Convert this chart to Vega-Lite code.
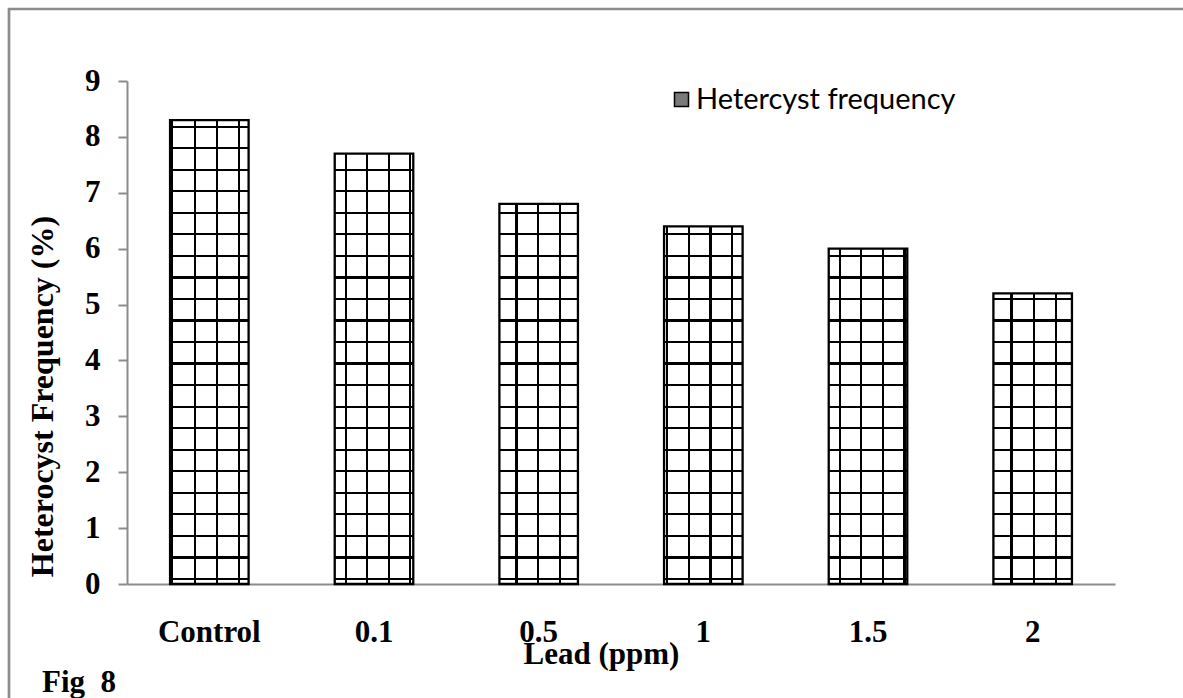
{
  "$schema": "https://vega.github.io/schema/vega-lite/v6.json",
  "width": 1194,
  "height": 709,
  "autosize": {"type": "none"},
  "padding": {"left": 9, "top": 9, "right": -20, "bottom": -20},
  "background": "white",
  "config": {
    "view": {"stroke": "#8c8c8c", "strokeWidth": 2.7},
    "font": "Liberation Serif"
  },
  "title": {
    "text": "Fig\u00a0 8",
    "orient": "bottom",
    "anchor": "start",
    "frame": "group",
    "offset": -26.3,
    "dx": 33,
    "baseline": "alphabetic",
    "font": "Liberation Serif",
    "fontSize": 31,
    "fontWeight": "bold",
    "color": "black"
  },
  "data": {
    "values": [
      {"dose": "Control", "freq": 8.3},
      {"dose": "0.1", "freq": 7.7},
      {"dose": "0.5", "freq": 6.8},
      {"dose": "1", "freq": 6.4},
      {"dose": "1.5", "freq": 6.0},
      {"dose": "2", "freq": 5.2}
    ]
  },
  "encoding": {
    "x": {
      "field": "dose",
      "type": "nominal",
      "sort": null,
      "scale": {"type": "band", "range": [118, 1106], "paddingInner": 0, "paddingOuter": 0},
      "axis": {
        "title": "Lead (ppm)",
        "orient": "bottom",
        "offset": -134,
        "labelAngle": 0,
        "labelFont": "Liberation Serif",
        "labelFontSize": 31,
        "labelFontWeight": "bold",
        "labelColor": "black",
        "labelBaseline": "alphabetic",
        "labelPadding": 57,
        "labelOverlap": false,
        "ticks": false,
        "tickSize": 0,
        "grid": false,
        "domainColor": "#8c8c8c",
        "domainWidth": 2,
        "titleFont": "Liberation Serif",
        "titleFontSize": 31,
        "titleFontWeight": "bold",
        "titleColor": "black",
        "titleX": 592,
        "titleY": 79,
        "titleBaseline": "alphabetic",
        "titleAlign": "center"
      }
    },
    "y": {
      "field": "freq",
      "type": "quantitative",
      "scale": {"domain": [0, 9], "range": [575, 72], "nice": false, "zero": true},
      "axis": {
        "title": "Heterocyst Frequency (%)",
        "orient": "left",
        "offset": -118,
        "values": [0, 1, 2, 3, 4, 5, 6, 7, 8, 9],
        "grid": false,
        "ticks": true,
        "tickSize": 9,
        "tickColor": "#8c8c8c",
        "tickWidth": 2,
        "domainColor": "#8c8c8c",
        "domainWidth": 2,
        "labelFont": "Liberation Serif",
        "labelFontSize": 31,
        "labelFontWeight": "bold",
        "labelColor": "black",
        "labelPadding": 18,
        "labelBaseline": "middle",
        "labelAlign": "right",
        "labelFlush": false,
        "labelOverlap": false,
        "titleFont": "Liberation Serif",
        "titleFontSize": 32,
        "titleFontWeight": "bold",
        "titleColor": "black",
        "titleX": -74.5,
        "titleY": 387,
        "titleAngle": -90,
        "titleBaseline": "alphabetic",
        "titleAlign": "center"
      }
    }
  },
  "layer": [
    {
      "mark": {
        "type": "bar",
        "width": {"band": 0.477},
        "stroke": null,
        "fill": {
          "gradient": "linear", "x1": 0, "y1": 0, "x2": 0, "y2": 1,
          "stops": [
            {"offset": 0, "color": "white"},
            {"offset": 0.00293, "color": "white"}, {"offset": 0.00293, "color": "black"}, {"offset": 0.00733, "color": "black"}, {"offset": 0.00733, "color": "white"},
            {"offset": 0.04575, "color": "white"}, {"offset": 0.04575, "color": "black"}, {"offset": 0.05015, "color": "black"}, {"offset": 0.05015, "color": "white"},
            {"offset": 0.08858, "color": "white"}, {"offset": 0.08858, "color": "black"}, {"offset": 0.09298, "color": "black"}, {"offset": 0.09298, "color": "white"},
            {"offset": 0.13140, "color": "white"}, {"offset": 0.13140, "color": "black"}, {"offset": 0.13580, "color": "black"}, {"offset": 0.13580, "color": "white"},
            {"offset": 0.17422, "color": "white"}, {"offset": 0.17422, "color": "black"}, {"offset": 0.17862, "color": "black"}, {"offset": 0.17862, "color": "white"},
            {"offset": 0.21704, "color": "white"}, {"offset": 0.21704, "color": "black"}, {"offset": 0.22144, "color": "black"}, {"offset": 0.22144, "color": "white"},
            {"offset": 0.25987, "color": "white"}, {"offset": 0.25987, "color": "black"}, {"offset": 0.26427, "color": "black"}, {"offset": 0.26427, "color": "white"},
            {"offset": 0.30269, "color": "white"}, {"offset": 0.30269, "color": "black"}, {"offset": 0.30709, "color": "black"}, {"offset": 0.30709, "color": "white"},
            {"offset": 0.34551, "color": "white"}, {"offset": 0.34551, "color": "black"}, {"offset": 0.34991, "color": "black"}, {"offset": 0.34991, "color": "white"},
            {"offset": 0.38834, "color": "white"}, {"offset": 0.38834, "color": "black"}, {"offset": 0.39274, "color": "black"}, {"offset": 0.39274, "color": "white"},
            {"offset": 0.43116, "color": "white"}, {"offset": 0.43116, "color": "black"}, {"offset": 0.43556, "color": "black"}, {"offset": 0.43556, "color": "white"},
            {"offset": 0.47398, "color": "white"}, {"offset": 0.47398, "color": "black"}, {"offset": 0.47838, "color": "black"}, {"offset": 0.47838, "color": "white"},
            {"offset": 0.51681, "color": "white"}, {"offset": 0.51681, "color": "black"}, {"offset": 0.52121, "color": "black"}, {"offset": 0.52121, "color": "white"},
            {"offset": 0.55963, "color": "white"}, {"offset": 0.55963, "color": "black"}, {"offset": 0.56403, "color": "black"}, {"offset": 0.56403, "color": "white"},
            {"offset": 0.60245, "color": "white"}, {"offset": 0.60245, "color": "black"}, {"offset": 0.60685, "color": "black"}, {"offset": 0.60685, "color": "white"},
            {"offset": 0.64528, "color": "white"}, {"offset": 0.64528, "color": "black"}, {"offset": 0.64968, "color": "black"}, {"offset": 0.64968, "color": "white"},
            {"offset": 0.68810, "color": "white"}, {"offset": 0.68810, "color": "black"}, {"offset": 0.69250, "color": "black"}, {"offset": 0.69250, "color": "white"},
            {"offset": 0.73092, "color": "white"}, {"offset": 0.73092, "color": "black"}, {"offset": 0.73532, "color": "black"}, {"offset": 0.73532, "color": "white"},
            {"offset": 0.77374, "color": "white"}, {"offset": 0.77374, "color": "black"}, {"offset": 0.77814, "color": "black"}, {"offset": 0.77814, "color": "white"},
            {"offset": 0.81657, "color": "white"}, {"offset": 0.81657, "color": "black"}, {"offset": 0.82097, "color": "black"}, {"offset": 0.82097, "color": "white"},
            {"offset": 0.85939, "color": "white"}, {"offset": 0.85939, "color": "black"}, {"offset": 0.86379, "color": "black"}, {"offset": 0.86379, "color": "white"},
            {"offset": 0.90221, "color": "white"}, {"offset": 0.90221, "color": "black"}, {"offset": 0.90661, "color": "black"}, {"offset": 0.90661, "color": "white"},
            {"offset": 0.94504, "color": "white"}, {"offset": 0.94504, "color": "black"}, {"offset": 0.94944, "color": "black"}, {"offset": 0.94944, "color": "white"},
            {"offset": 0.98786, "color": "white"}, {"offset": 0.98786, "color": "black"}, {"offset": 0.99226, "color": "black"}, {"offset": 0.99226, "color": "white"},
            {"offset": 1, "color": "white"}
          ]
        }
      },
      "encoding": {
        "y": {"datum": 9, "type": "quantitative"},
        "y2": {"datum": 0}
      }
    },
    {
      "transform": [{"filter": {"field": "dose", "equal": "Control"}}],
      "mark": {
        "type": "bar", "width": {"band": 0.477}, "stroke": null,
        "fill": {"gradient": "linear", "x1": 0, "y1": 0, "x2": 1, "y2": 0, "stops": [
          {"offset": 0, "color": "rgba(0,0,0,0)"},
          {"offset": 0.011, "color": "rgba(0,0,0,0)"}, {"offset": 0.011, "color": "black"}, {"offset": 0.039, "color": "black"}, {"offset": 0.039, "color": "rgba(0,0,0,0)"},
          {"offset": 0.304, "color": "rgba(0,0,0,0)"}, {"offset": 0.304, "color": "black"}, {"offset": 0.332, "color": "black"}, {"offset": 0.332, "color": "rgba(0,0,0,0)"},
          {"offset": 0.585, "color": "rgba(0,0,0,0)"}, {"offset": 0.585, "color": "black"}, {"offset": 0.613, "color": "black"}, {"offset": 0.613, "color": "rgba(0,0,0,0)"},
          {"offset": 0.865, "color": "rgba(0,0,0,0)"}, {"offset": 0.865, "color": "black"}, {"offset": 0.893, "color": "black"}, {"offset": 0.893, "color": "rgba(0,0,0,0)"},
          {"offset": 1, "color": "rgba(0,0,0,0)"}
        ]}
      },
      "encoding": {"y": {"datum": 9, "type": "quantitative"}, "y2": {"datum": 0}}
    },
    {
      "transform": [{"filter": {"field": "dose", "equal": "0.1"}}],
      "mark": {
        "type": "bar", "width": {"band": 0.477}, "stroke": null,
        "fill": {"gradient": "linear", "x1": 0, "y1": 0, "x2": 1, "y2": 0, "stops": [
          {"offset": 0, "color": "rgba(0,0,0,0)"},
          {"offset": 0.130, "color": "rgba(0,0,0,0)"}, {"offset": 0.130, "color": "black"}, {"offset": 0.158, "color": "black"}, {"offset": 0.158, "color": "rgba(0,0,0,0)"},
          {"offset": 0.401, "color": "rgba(0,0,0,0)"}, {"offset": 0.401, "color": "black"}, {"offset": 0.429, "color": "black"}, {"offset": 0.429, "color": "rgba(0,0,0,0)"},
          {"offset": 0.675, "color": "rgba(0,0,0,0)"}, {"offset": 0.675, "color": "black"}, {"offset": 0.703, "color": "black"}, {"offset": 0.703, "color": "rgba(0,0,0,0)"},
          {"offset": 0.948, "color": "rgba(0,0,0,0)"}, {"offset": 0.948, "color": "black"}, {"offset": 0.976, "color": "black"}, {"offset": 0.976, "color": "rgba(0,0,0,0)"},
          {"offset": 1, "color": "rgba(0,0,0,0)"}
        ]}
      },
      "encoding": {"y": {"datum": 9, "type": "quantitative"}, "y2": {"datum": 0}}
    },
    {
      "transform": [{"filter": {"field": "dose", "equal": "0.5"}}],
      "mark": {
        "type": "bar", "width": {"band": 0.477}, "stroke": null,
        "fill": {"gradient": "linear", "x1": 0, "y1": 0, "x2": 1, "y2": 0, "stops": [
          {"offset": 0, "color": "rgba(0,0,0,0)"},
          {"offset": 0.205, "color": "rgba(0,0,0,0)"}, {"offset": 0.205, "color": "black"}, {"offset": 0.233, "color": "black"}, {"offset": 0.233, "color": "rgba(0,0,0,0)"},
          {"offset": 0.480, "color": "rgba(0,0,0,0)"}, {"offset": 0.480, "color": "black"}, {"offset": 0.508, "color": "black"}, {"offset": 0.508, "color": "rgba(0,0,0,0)"},
          {"offset": 0.754, "color": "rgba(0,0,0,0)"}, {"offset": 0.754, "color": "black"}, {"offset": 0.782, "color": "black"}, {"offset": 0.782, "color": "rgba(0,0,0,0)"},
          {"offset": 1, "color": "rgba(0,0,0,0)"}
        ]}
      },
      "encoding": {"y": {"datum": 9, "type": "quantitative"}, "y2": {"datum": 0}}
    },
    {
      "transform": [{"filter": {"field": "dose", "equal": "1"}}],
      "mark": {
        "type": "bar", "width": {"band": 0.477}, "stroke": null,
        "fill": {"gradient": "linear", "x1": 0, "y1": 0, "x2": 1, "y2": 0, "stops": [
          {"offset": 0, "color": "rgba(0,0,0,0)"},
          {"offset": 0.028, "color": "rgba(0,0,0,0)"}, {"offset": 0.028, "color": "black"}, {"offset": 0.056, "color": "black"}, {"offset": 0.056, "color": "rgba(0,0,0,0)"},
          {"offset": 0.303, "color": "rgba(0,0,0,0)"}, {"offset": 0.303, "color": "black"}, {"offset": 0.331, "color": "black"}, {"offset": 0.331, "color": "rgba(0,0,0,0)"},
          {"offset": 0.577, "color": "rgba(0,0,0,0)"}, {"offset": 0.577, "color": "black"}, {"offset": 0.605, "color": "black"}, {"offset": 0.605, "color": "rgba(0,0,0,0)"},
          {"offset": 0.851, "color": "rgba(0,0,0,0)"}, {"offset": 0.851, "color": "black"}, {"offset": 0.879, "color": "black"}, {"offset": 0.879, "color": "rgba(0,0,0,0)"},
          {"offset": 1, "color": "rgba(0,0,0,0)"}
        ]}
      },
      "encoding": {"y": {"datum": 9, "type": "quantitative"}, "y2": {"datum": 0}}
    },
    {
      "transform": [{"filter": {"field": "dose", "equal": "1.5"}}],
      "mark": {
        "type": "bar", "width": {"band": 0.477}, "stroke": null,
        "fill": {"gradient": "linear", "x1": 0, "y1": 0, "x2": 1, "y2": 0, "stops": [
          {"offset": 0, "color": "rgba(0,0,0,0)"},
          {"offset": 0.126, "color": "rgba(0,0,0,0)"}, {"offset": 0.126, "color": "black"}, {"offset": 0.154, "color": "black"}, {"offset": 0.154, "color": "rgba(0,0,0,0)"},
          {"offset": 0.401, "color": "rgba(0,0,0,0)"}, {"offset": 0.401, "color": "black"}, {"offset": 0.429, "color": "black"}, {"offset": 0.429, "color": "rgba(0,0,0,0)"},
          {"offset": 0.675, "color": "rgba(0,0,0,0)"}, {"offset": 0.675, "color": "black"}, {"offset": 0.703, "color": "black"}, {"offset": 0.703, "color": "rgba(0,0,0,0)"},
          {"offset": 0.950, "color": "rgba(0,0,0,0)"}, {"offset": 0.950, "color": "black"}, {"offset": 0.978, "color": "black"}, {"offset": 0.978, "color": "rgba(0,0,0,0)"},
          {"offset": 1, "color": "rgba(0,0,0,0)"}
        ]}
      },
      "encoding": {"y": {"datum": 9, "type": "quantitative"}, "y2": {"datum": 0}}
    },
    {
      "transform": [{"filter": {"field": "dose", "equal": "2"}}],
      "mark": {
        "type": "bar", "width": {"band": 0.477}, "stroke": null,
        "fill": {"gradient": "linear", "x1": 0, "y1": 0, "x2": 1, "y2": 0, "stops": [
          {"offset": 0, "color": "rgba(0,0,0,0)"},
          {"offset": 0.216, "color": "rgba(0,0,0,0)"}, {"offset": 0.216, "color": "black"}, {"offset": 0.244, "color": "black"}, {"offset": 0.244, "color": "rgba(0,0,0,0)"},
          {"offset": 0.506, "color": "rgba(0,0,0,0)"}, {"offset": 0.506, "color": "black"}, {"offset": 0.534, "color": "black"}, {"offset": 0.534, "color": "rgba(0,0,0,0)"},
          {"offset": 0.786, "color": "rgba(0,0,0,0)"}, {"offset": 0.786, "color": "black"}, {"offset": 0.814, "color": "black"}, {"offset": 0.814, "color": "rgba(0,0,0,0)"},
          {"offset": 1, "color": "rgba(0,0,0,0)"}
        ]}
      },
      "encoding": {"y": {"datum": 9, "type": "quantitative"}, "y2": {"datum": 0}}
    },
    {
      "mark": {"type": "square", "size": 0, "stroke": "black", "strokeWidth": 1.5, "opacity": 1},
      "encoding": {
        "fill": {
          "datum": "Hetercyst frequency",
          "type": "nominal",
          "scale": {"range": ["#7a7a7a"]},
          "legend": {
            "orient": "none",
            "legendX": 658,
            "legendY": 76,
            "title": null,
            "padding": 0,
            "symbolType": "square",
            "symbolSize": 196,
            "symbolStrokeWidth": 1.5,
            "symbolStrokeColor": "black",
            "labelFont": "Lato",
            "labelFontSize": 29,
            "labelFontWeight": "normal",
            "labelColor": "black",
            "labelOffset": 0,
            "labelLimit": 0
          }
        }
      }
    },
    {
      "mark": {"type": "bar", "width": {"band": 0.52}, "fill": "white", "stroke": null},
      "encoding": {
        "y2": {"datum": 9}
      }
    },
    {
      "mark": {"type": "bar", "width": {"band": 0.477}, "fill": "transparent", "stroke": "black", "strokeWidth": 2.3},
      "encoding": {
        "y2": {"datum": 0}
      }
    }
  ]
}
